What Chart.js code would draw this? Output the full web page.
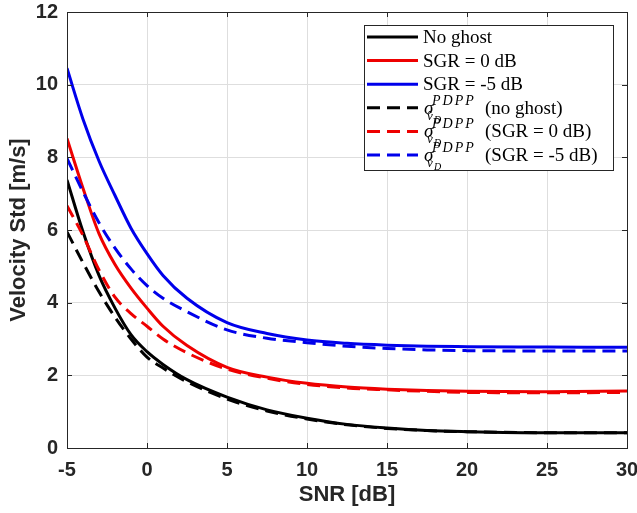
<!DOCTYPE html>
<html>
<head>
<meta charset="utf-8">
<script src="https://cdn.jsdelivr.net/npm/chart.js@4.4.1/dist/chart.umd.min.js"></script>
<style>
    html, body { margin: 0; padding: 0; background: #ffffff; }
    canvas { display: block; }
</style>
</head>
<body>
<canvas id="myChart" width="637" height="513"></canvas>
<script>
// datos
const snr = [-5, -4, -3, -2, -1, 0, 1, 2.5, 5, 7.5, 10, 12.5, 15, 17.5, 20, 25, 30];

const sinFantasma = [7.38, 5.95, 4.75, 3.85, 3.12, 2.65, 2.3, 1.88, 1.4, 1.05, 0.82, 0.65, 0.55, 0.48, 0.45, 0.42, 0.42];
const sgr0 = [8.52, 7.15, 5.9, 5.05, 4.4, 3.85, 3.35, 2.82, 2.22, 1.95, 1.78, 1.68, 1.62, 1.58, 1.56, 1.55, 1.57];
const sgr5 = [10.45, 9.05, 7.9, 6.95, 6.05, 5.35, 4.75, 4.12, 3.45, 3.15, 2.97, 2.88, 2.83, 2.8, 2.79, 2.78, 2.77];

const sinFantasmaPdpp = [5.95, 5.1, 4.3, 3.6, 3.0, 2.5, 2.2, 1.82, 1.35, 1.02, 0.8, 0.64, 0.54, 0.48, 0.45, 0.42, 0.42];
const sgr0Pdpp = [6.67, 5.85, 4.9, 4.15, 3.7, 3.35, 3.0, 2.62, 2.17, 1.92, 1.75, 1.65, 1.6, 1.56, 1.53, 1.52, 1.53];
const sgr5Pdpp = [7.97, 7.05, 6.2, 5.5, 4.93, 4.47, 4.12, 3.75, 3.25, 3.02, 2.9, 2.8, 2.74, 2.7, 2.68, 2.67, 2.67];

const ticksX = [-5, 0, 5, 10, 15, 20, 25, 30];
const ticksY = [0, 2, 4, 6, 8, 10, 12];

const etiquetas = ['No ghost', 'SGR = 0 dB', 'SGR = -5 dB', '(no ghost)', '(SGR = 0 dB)', '(SGR = -5 dB)'];

const negro = '#000000';
const rojo = 'rgb(238, 0, 0)';
const azul = 'rgb(0, 0, 235)';
const ejes = '#262626';

function puntos(valores) {
    return snr.map((x, i) => ({ x: x, y: valores[i] }));
}

function serie(idx, valores, color, discontinua) {
    return {
        label: etiquetas[idx],
        sigma: discontinua,
        data: puntos(valores),
        borderColor: color,
        backgroundColor: color,
        borderWidth: 3,
        borderDash: discontinua ? [13, 7] : [],
        pointRadius: 0,
        fill: false,
        cubicInterpolationMode: 'monotone',
        order: discontinua ? 1 : 2
    };
}

//caja de los ejes con marcas hacia dentro
const cajaPlugin = {
    id: 'caja',
    afterDatasetsDraw(chart) {
        const ctx = chart.ctx;
        const a = chart.chartArea;
        const sx = chart.scales.x;
        const sy = chart.scales.y;
        const largo = 5;
        ctx.save();
        ctx.strokeStyle = ejes;
        ctx.lineWidth = 1;
        ctx.setLineDash([]);
        ctx.beginPath();
        ticksX.forEach(v => {
            const px = Math.round(sx.getPixelForValue(v)) + 0.5;
            ctx.moveTo(px, a.bottom); ctx.lineTo(px, a.bottom - largo);
            ctx.moveTo(px, a.top); ctx.lineTo(px, a.top + largo);
        });
        ticksY.forEach(v => {
            const py = Math.round(sy.getPixelForValue(v)) + 0.5;
            ctx.moveTo(a.left, py); ctx.lineTo(a.left + largo, py);
            ctx.moveTo(a.right, py); ctx.lineTo(a.right - largo, py);
        });
        ctx.stroke();
        ctx.strokeRect(Math.round(a.left) + 0.5, Math.round(a.top) + 0.5,
            Math.round(a.right - a.left), Math.round(a.bottom - a.top));
        ctx.restore();
    }
};

//leyenda dibujada a mano (para el sigma con super y subindice)
const leyendaPlugin = {
    id: 'leyenda',
    afterDraw(chart) {
        const ctx = chart.ctx;
        const a = chart.chartArea;
        const ancho = 249;
        const alto = 145;
        const izq = a.right - 14 - ancho;
        const arriba = a.top + 13;
        const paso = 23.6;

        ctx.save();
        ctx.fillStyle = '#ffffff';
        ctx.fillRect(izq, arriba, ancho, alto);
        ctx.strokeStyle = ejes;
        ctx.lineWidth = 1;
        ctx.strokeRect(Math.round(izq) + 0.5, Math.round(arriba) + 0.5, ancho, alto);

        chart.data.datasets.forEach((ds, i) => {
            const y = arriba + 12 + i * paso;
            // muestra de linea
            ctx.strokeStyle = ds.borderColor;
            ctx.lineWidth = ds.borderWidth;
            ctx.setLineDash(ds.borderDash);
            ctx.beginPath();
            ctx.moveTo(izq + 3, y);
            ctx.lineTo(izq + 54, y);
            ctx.stroke();
            ctx.setLineDash([]);

            ctx.fillStyle = '#000000';
            ctx.textBaseline = 'alphabetic';
            ctx.textAlign = 'left';
            const base = y + 6;
            if (!ds.sigma) {
                ctx.font = '19px "Liberation Serif"';
                ctx.fillText(ds.label, izq + 59, base);
            } else {
                const xs = izq + 60;
                ctx.font = 'italic 19px "Liberation Serif"';
                ctx.fillText('σ', xs, base);
                ctx.font = 'italic 14px "Liberation Serif"';
                ctx.letterSpacing = '2px';
                ctx.fillText('PDPP', xs + 8, base - 9);
                ctx.letterSpacing = '0px';
                ctx.font = 'italic 13px "Liberation Serif"';
                ctx.fillText('v\u0302', xs + 3, base + 6);
                ctx.font = 'italic 10px "Liberation Serif"';
                ctx.fillText('D', xs + 10, base + 9);
                ctx.font = '19px "Liberation Serif"';
                ctx.fillText(ds.label, izq + 121, base);
            }
        });
        ctx.restore();
    }
};

function graficaVelocidad() {
    const data = {
        datasets: [
            serie(0, sinFantasma, negro, false),
            serie(1, sgr0, rojo, false),
            serie(2, sgr5, azul, false),
            serie(3, sinFantasmaPdpp, negro, true),
            serie(4, sgr0Pdpp, rojo, true),
            serie(5, sgr5Pdpp, azul, true)
        ]
    };

    const fuenteTicks = { family: '"Liberation Sans", Arial, sans-serif', size: 20, weight: 'bold' };
    const fuenteTitulo = { family: '"Liberation Sans", Arial, sans-serif', size: 22, weight: 'bold' };

    const config = {
        type: 'line',
        data: data,
        options: {
            responsive: false,
            animation: false,
            layout: { padding: { top: 12, right: 10, left: 0, bottom: 0 } },
            plugins: {
                legend: { display: false },
                tooltip: { enabled: false }
            },
            scales: {
                x: {
                    type: 'linear',
                    min: -5,
                    max: 30,
                    afterBuildTicks: scale => { scale.ticks = ticksX.map(v => ({ value: v })); },
                    afterFit: scale => {
                        scale.height = 65;
                        scale.paddingLeft = 0;
                        scale.paddingRight = 0;
                    },
                    ticks: { font: fuenteTicks, color: ejes, padding: 10, maxRotation: 0 },
                    grid: { color: '#dedede', lineWidth: 1, drawTicks: false },
                    border: { display: false },
                    title: {
                        display: true,
                        text: 'SNR [dB]',
                        font: fuenteTitulo,
                        color: ejes,
                        padding: { top: 0, bottom: 5 }
                    }
                },
                y: {
                    min: 0,
                    max: 12,
                    afterBuildTicks: scale => { scale.ticks = ticksY.map(v => ({ value: v })); },
                    afterFit: scale => {
                        scale.width = 67;
                        scale.paddingTop = 0;
                        scale.paddingBottom = 0;
                    },
                    ticks: { font: fuenteTicks, color: ejes, padding: 9 },
                    grid: { color: '#dedede', lineWidth: 1, drawTicks: false },
                    border: { display: false },
                    title: {
                        display: true,
                        text: 'Velocity Std [m/s]',
                        font: fuenteTitulo,
                        color: ejes,
                        padding: { top: 6, bottom: 0 }
                    }
                }
            }
        },
        plugins: [cajaPlugin, leyendaPlugin]
    };

    const ctx = document.getElementById('myChart').getContext('2d');
    new Chart(ctx, config);
}

document.addEventListener('DOMContentLoaded', function () {
    graficaVelocidad();
});
</script>
</body>
</html>
